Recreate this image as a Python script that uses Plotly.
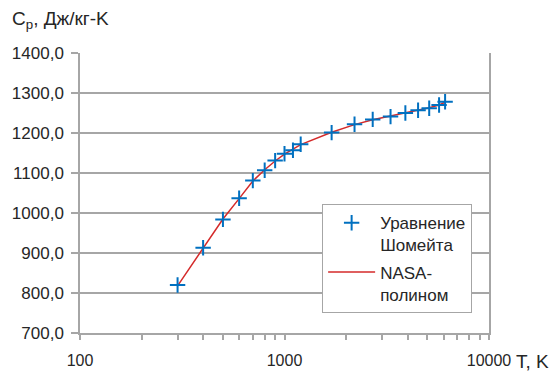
import plotly.graph_objects as go

T = [300, 400, 500, 600, 700, 800, 900, 1000, 1100, 1200, 1700, 2200, 2700, 3300, 3900, 4500, 5100, 5700, 6100]
cp_shomate = [820, 913, 984, 1037, 1081, 1107, 1131, 1148, 1157, 1172, 1201, 1222, 1234, 1241, 1250, 1257, 1262, 1270, 1278]
cp_nasa = [818, 912, 985, 1036, 1080, 1108, 1130, 1147, 1159, 1171, 1202, 1221, 1233, 1242, 1250, 1257, 1263, 1270, 1277]

FONT = "Liberation Sans"
TXT = "#262626"

fig = go.Figure()
fig.add_trace(go.Scatter(
    x=T, y=cp_nasa, mode="lines", name="NASA-<br>полином",
    line=dict(color="#d42a2a", width=1.5),
    legendgroup="b", legendrank=2,
))
fig.add_trace(go.Scatter(
    x=T, y=cp_shomate, mode="markers", name="Уравнение<br>Шомейта",
    marker=dict(symbol="cross-thin", size=11, line=dict(width=2, color="#0070c0"), color="#0070c0"),
    legendgroup="a", legendrank=1,
))

fig.update_layout(
    width=560, height=371,
    margin=dict(l=80, r=71, t=53, b=38),
    paper_bgcolor="white", plot_bgcolor="white",
    separators=", ",
    font=dict(family=FONT, size=17, color=TXT),
    showlegend=True,
    legend=dict(
        x=0.592, y=0.46, xanchor="left", yanchor="top",
        bordercolor="#a6a6a6", borderwidth=1, bgcolor="white",
        font=dict(family=FONT, size=17, color=TXT),
        traceorder="grouped", tracegroupgap=2, valign="top",
        itemwidth=47,
    ),
    xaxis=dict(
        type="log", range=[2, 4], automargin=False,
        tickvals=[100, 1000, 10000], ticktext=["100", "1000", "10000"],
        showgrid=False, zeroline=False,
        showline=True, linecolor="#a6a6a6", linewidth=1.5,
        ticks="outside", ticklen=5, tickcolor="#a6a6a6", tickwidth=1.5,
        minor=dict(ticks="outside", ticklen=5, tickcolor="#a6a6a6", tickwidth=1.5,
                   tickvals=[200, 300, 400, 500, 600, 700, 800, 900,
                             2000, 3000, 4000, 5000, 6000, 7000, 8000, 9000], showgrid=False),
        tickfont=dict(family=FONT, size=16, color=TXT),
        ticklabelstandoff=7,
    ),
    yaxis=dict(
        range=[700, 1400], dtick=100, tickformat=".1f", automargin=False,
        showgrid=True, gridcolor="#a6a6a6", gridwidth=1.5,
        zeroline=False,
        showline=True, linecolor="#a6a6a6", linewidth=1.5, mirror=True,
        ticks="outside", ticklen=7, tickcolor="#a6a6a6", tickwidth=1.5,
        tickfont=dict(family=FONT, size=17, color=TXT),
        ticklabelstandoff=4,
    ),
    annotations=[
        dict(text="C<sub>p</sub>, Дж/кг-K", xref="paper", yref="paper",
             x=-0.172, y=1.118, xanchor="left", yanchor="middle", showarrow=False,
             font=dict(family=FONT, size=19, color=TXT)),
        dict(text="T, K", xref="paper", yref="paper",
             x=1.062, y=-0.1, xanchor="left", yanchor="middle", showarrow=False,
             font=dict(family=FONT, size=19, color=TXT)),
    ],
)

fig.write_html("out.html")
